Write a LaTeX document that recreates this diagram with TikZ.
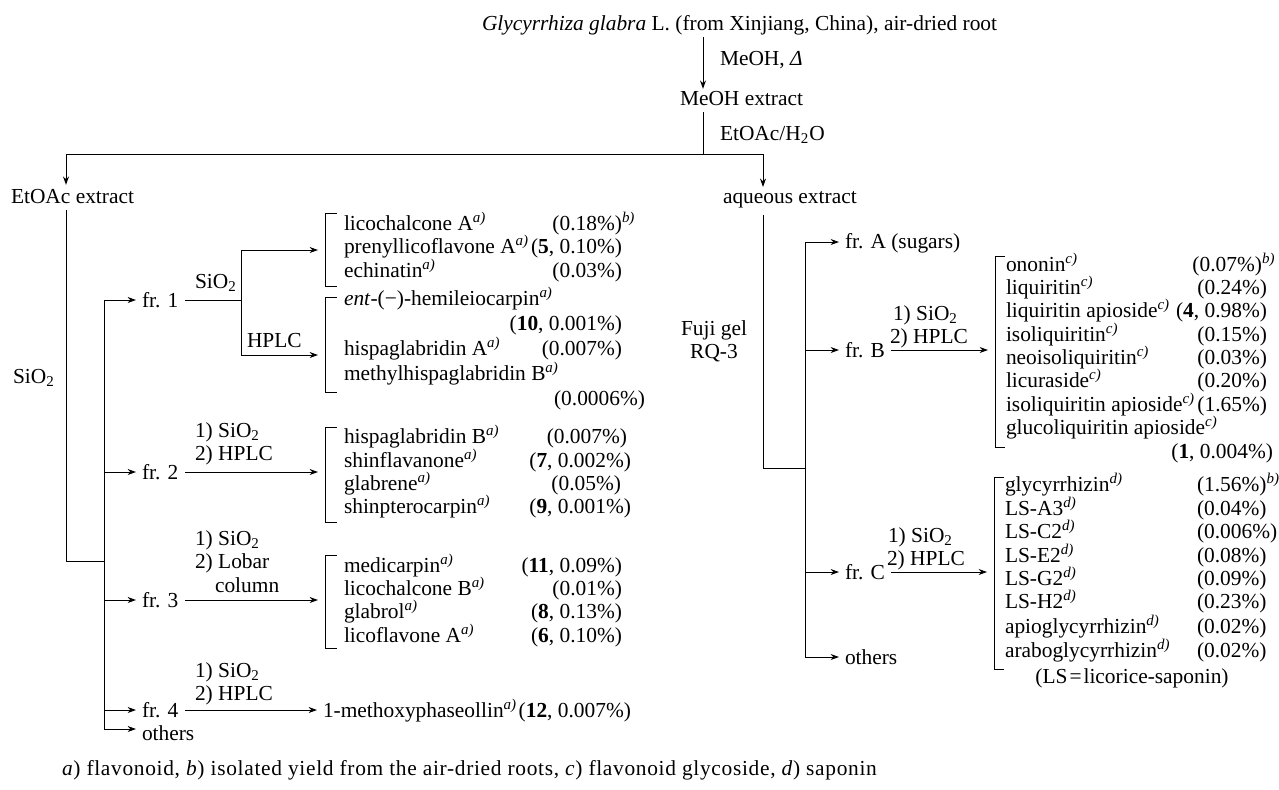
\documentclass[tikz,border=0pt]{standalone}
\usepackage{fontspec}
\setmainfont{Liberation Serif}
\usetikzlibrary{arrows.meta}
\newcommand{\fna}{\textsuperscript{\itshape a)}}
\newcommand{\fnb}{\textsuperscript{\itshape b)}}
\newcommand{\fnc}{\textsuperscript{\itshape c)}}
\newcommand{\fnd}{\textsuperscript{\itshape d)}}
\newcommand{\sioo}{SiO\textsubscript{2}}
\begin{document}
\begin{tikzpicture}[x=0.5pt,y=-0.5pt,
  every node/.style={inner sep=0pt,outer sep=0pt,font=\fontsize{10.7}{11.6}\selectfont},
  ln/.style={line width=0.5pt},
  arr/.style={ln,-{Stealth[length=4.2pt,width=3pt]}},
  lt/.style={anchor=base west},
  rt/.style={anchor=base east},
  ct/.style={anchor=base}]
\useasboundingbox (0,0) rectangle (1279,789);
% ---------- top ----------
\node[lt] (src) at (482,30) {\textit{Glycyrrhiza glabra} L. (from Xinjiang, China), air-dried root};
\coordinate (mx) at (703,0);
\node[lt] (cond1) at (720,65) {MeOH, \textit{Δ}};
\node[lt] (meoh) at (680,105) {MeOH extract};
\node[lt] (cond2) at (720,140) {EtOAc/H\textsubscript{2}O};
\coordinate (j0) at (703,154);
\coordinate (jl) at (66,154);
\coordinate (jr) at (763,154);
\draw[arr] ([yshift=-1pt]src.south -| mx) -- ([yshift=1pt]meoh.north -| mx);
\draw[ln] ([yshift=-3.5pt]meoh.south -| mx) -- (j0);
\draw[ln] (jl) -- (jr);
\node[lt] (etoac) at (11,203) {EtOAc extract};
\node[lt] (aq) at (723,203) {aqueous extract};
\draw[arr] (jl) -- ([yshift=2pt]etoac.north -| jl);
\draw[arr] (jr) -- ([yshift=2pt]aq.north -| jr);
% ---------- left tree ----------
\node[lt] (sio2l) at (13,383) {\sioo};
\coordinate (l1) at (66,561);
\coordinate (l2) at (104,561);
\draw[ln] ([yshift=-3.5pt]etoac.south -| jl) -- (l1) -- (l2);
\coordinate (f1) at (104,300);
\coordinate (f2) at (104,472);
\coordinate (f3) at (104,600);
\coordinate (f4) at (104,710);
\coordinate (f5) at (104,729);
\draw[ln] (f1) -- (f5);
\node[lt] (fr1) at (142,307) {fr. 1};
\node[lt] (fr2) at (142,479) {fr. 2};
\node[lt] (fr3) at (142,607) {fr. 3};
\node[lt] (fr4) at (142,717) {fr. 4};
\node[lt] (oth1) at (142,740) {others};
\draw[arr,shorten >=3pt] (f1) -- (f1 -| fr1.west);
\draw[arr,shorten >=3pt] (f2) -- (f2 -| fr2.west);
\draw[arr,shorten >=3pt] (f3) -- (f3 -| fr3.west);
\draw[arr,shorten >=3pt] (f4) -- (f4 -| fr4.west);
\draw[arr,shorten >=3pt] (f5) -- (f5 -| oth1.west);
% fr.1
\coordinate (s1) at (241,300);
\coordinate (s1u) at (241,250);
\coordinate (s1d) at (241,355);
\node[lt] (lsio1) at (195,288) {\sioo};
\node[lt] (lhplc1) at (247,347) {HPLC};
\draw[ln] ([xshift=3.5pt]fr1.east |- f1) -- (s1);
\draw[ln] (s1u) -- (s1d);
\coordinate (b1t) at (325,213); \coordinate (b1b) at (325,286);
\coordinate (b2t) at (325,297); \coordinate (b2b) at (325,392);
\draw[ln] (b1t) ++(12,0) -- (b1t) -- (b1b) -- ++(12,0);
\draw[ln] (b2t) ++(12,0) -- (b2t) -- (b2b) -- ++(12,0);
\draw[arr,shorten >=3.5pt] (s1u) -- (s1u -| b1t);
\draw[arr,shorten >=3.5pt] (s1d) -- (s1d -| b2t);
\node[lt] (c1) at (344,230) {licochalcone A\fna};
\node[rt] (v1) at (622,230) {(0.18\%)\rlap{\fnb}};
\node[lt] (c2) at (344,253) {prenyllicoflavone A\fna};
\node[rt] (v2) at (622,253) {(\textbf{5}, 0.10\%)};
\node[lt] (c3) at (344,277) {echinatin\fna};
\node[rt] (v3) at (622,277) {(0.03\%)};
\node[lt] (c4) at (344,305) {\textit{ent}-(−)-hemileiocarpin\fna};
\node[rt] (v4) at (622,330) {(\textbf{10}, 0.001\%)};
\node[lt] (c5) at (344,355) {hispaglabridin A\fna};
\node[rt] (v5) at (622,355) {(0.007\%)};
\node[lt] (c6) at (344,380) {methylhispaglabridin B\fna};
\node[rt] (v6) at (645,405) {(0.0006\%)};
% fr.2
\node[lt] (l2a) at (195,437) {1) \sioo};
\node[lt] (l2b) at (195,460) {2) HPLC};
\coordinate (b3t) at (325,427); \coordinate (b3b) at (325,522);
\draw[ln] (b3t) ++(12,0) -- (b3t) -- (b3b) -- ++(12,0);
\draw[arr,shorten >=3.5pt] ([xshift=3.5pt]fr2.east |- f2) -- (f2 -| b3t);
\node[lt] (c7) at (344,443) {hispaglabridin B\fna};
\node[rt] (v7) at (627,443) {(0.007\%)};
\node[lt] (c8) at (344,467) {shinflavanone\fna};
\node[rt] (v8) at (631,467) {(\textbf{7}, 0.002\%)};
\node[lt] (c9) at (344,490) {glabrene\fna};
\node[rt] (v9) at (621,490) {(0.05\%)};
\node[lt] (c10) at (344,513) {shinpterocarpin\fna};
\node[rt] (v10) at (631,513) {(\textbf{9}, 0.001\%)};
% fr.3
\node[lt] (l3a) at (195,545) {1) \sioo};
\node[lt] (l3b) at (195,568) {2) Lobar};
\node[lt] (l3c) at (215,592) {column};
\coordinate (b4t) at (325,555); \coordinate (b4b) at (325,648);
\draw[ln] (b4t) ++(12,0) -- (b4t) -- (b4b) -- ++(12,0);
\draw[arr,shorten >=3.5pt] ([xshift=3.5pt]fr3.east |- f3) -- (f3 -| b4t);
\node[lt] (c11) at (344,572) {medicarpin\fna};
\node[rt] (v11) at (622,572) {(\textbf{11}, 0.09\%)};
\node[lt] (c12) at (344,595) {licochalcone B\fna};
\node[rt] (v12) at (622,595) {(0.01\%)};
\node[lt] (c13) at (344,618) {glabrol\fna};
\node[rt] (v13) at (622,618) {(\textbf{8}, 0.13\%)};
\node[lt] (c14) at (344,642) {licoflavone A\fna};
\node[rt] (v14) at (622,642) {(\textbf{6}, 0.10\%)};
% fr.4
\node[lt] (l4a) at (195,677) {1) \sioo};
\node[lt] (l4b) at (195,700) {2) HPLC};
\node[lt] (c15) at (323,717) {1-methoxyphaseollin\fna};
\node[rt] (v15) at (631,717) {(\textbf{12}, 0.007\%)};
\draw[arr,shorten >=3pt] ([xshift=3.5pt]fr4.east |- f4) -- (f4 -| c15.west);
% ---------- right tree ----------
\coordinate (ja) at (763,468);
\coordinate (jb) at (805,468);
\draw[ln] ([yshift=-3.5pt]aq.south -| jr) -- (ja) -- (jb);
\node[ct] (fuji1) at (714,335) {Fuji gel};
\node[ct] (fuji2) at (714,358) {RQ-3};
\coordinate (g1) at (805,242);
\coordinate (g2) at (805,350);
\coordinate (g3) at (805,572);
\coordinate (g4) at (805,657);
\draw[ln] (g1) -- (g4);
\node[lt] (frA) at (845,248) {fr. A (sugars)};
\node[lt] (frB) at (845,357) {fr. B};
\node[lt] (frC) at (845,579) {fr. C};
\node[lt] (oth2) at (845,664) {others};
\draw[arr,shorten >=3pt] (g1) -- (g1 -| frA.west);
\draw[arr,shorten >=3pt] (g2) -- (g2 -| frB.west);
\draw[arr,shorten >=3pt] (g3) -- (g3 -| frC.west);
\draw[arr,shorten >=3pt] (g4) -- (g4 -| oth2.west);
% fr.B
\node[lt] (lBa) at (893,320) {1) \sioo};
\node[lt] (lBb) at (890,343) {2) HPLC};
\coordinate (b5t) at (995,256); \coordinate (b5b) at (995,447);
\draw[ln] (b5t) ++(10,0) -- (b5t) -- (b5b) -- ++(10,0);
\draw[arr,shorten >=3.5pt] ([xshift=3pt]frB.east |- g2) -- (g2 -| b5t);
\node[lt] (d1) at (1006,271) {ononin\fnc};
\node[rt] (w1) at (1262,271) {(0.07\%)\rlap{\fnb}};
\node[lt] (d2) at (1006,294) {liquiritin\fnc};
\node[rt] (w2) at (1267,294) {(0.24\%)};
\node[lt] (d3) at (1006,317) {liquiritin apioside\fnc};
\node[rt] (w3) at (1267,317) {(\textbf{4}, 0.98\%)};
\node[lt] (d4) at (1006,341) {isoliquiritin\fnc};
\node[rt] (w4) at (1267,341) {(0.15\%)};
\node[lt] (d5) at (1006,364) {neoisoliquiritin\fnc};
\node[rt] (w5) at (1267,364) {(0.03\%)};
\node[lt] (d6) at (1006,387) {licuraside\fnc};
\node[rt] (w6) at (1267,387) {(0.20\%)};
\node[lt] (d7) at (1006,411) {isoliquiritin apioside\fnc};
\node[rt] (w7) at (1267,411) {(1.65\%)};
\node[lt] (d8) at (1006,434) {glucoliquiritin apioside\fnc};
\node[rt] (w8) at (1273,458) {(\textbf{1}, 0.004\%)};
% fr.C
\node[lt] (lCa) at (888,542) {1) \sioo};
\node[lt] (lCb) at (887,565) {2) HPLC};
\coordinate (b6t) at (994,477); \coordinate (b6b) at (994,669);
\draw[ln] (b6t) ++(10,0) -- (b6t) -- (b6b) -- ++(10,0);
\draw[arr,shorten >=3.5pt] ([xshift=3pt]frC.east |- g3) -- (g3 -| b6t);
\node[lt] (e1) at (1005,491) {glycyrrhizin\fnd};
\node[lt] (u1) at (1197,491) {(1.56\%)\fnb};
\node[lt] (e2) at (1005,515) {LS-A3\fnd};
\node[lt] (u2) at (1197,515) {(0.04\%)};
\node[lt] (e3) at (1005,538) {LS-C2\fnd};
\node[lt] (u3) at (1197,538) {(0.006\%)};
\node[lt] (e4) at (1005,562) {LS-E2\fnd};
\node[lt] (u4) at (1197,562) {(0.08\%)};
\node[lt] (e5) at (1005,585) {LS-G2\fnd};
\node[lt] (u5) at (1197,585) {(0.09\%)};
\node[lt] (e6) at (1005,608) {LS-H2\fnd};
\node[lt] (u6) at (1197,608) {(0.23\%)};
\node[lt] (e7) at (1005,633) {apioglycyrrhizin\fnd};
\node[lt] (u7) at (1197,633) {(0.02\%)};
\node[lt] (e8) at (1005,657) {araboglycyrrhizin\fnd};
\node[lt] (u8) at (1197,657) {(0.02\%)};
\node[ct] (lsnote) at (1132,683) {(LS\kern1pt=\kern1pt licorice-saponin)};
% ---------- footnote ----------
\node[lt] (foot) at (62,775) {\addfontfeatures{LetterSpace=3.2}\textit{a}) flavonoid, \textit{b}) isolated yield from the air-dried roots, \textit{c}) flavonoid glycoside, \textit{d}) saponin};
\end{tikzpicture}
\end{document}
